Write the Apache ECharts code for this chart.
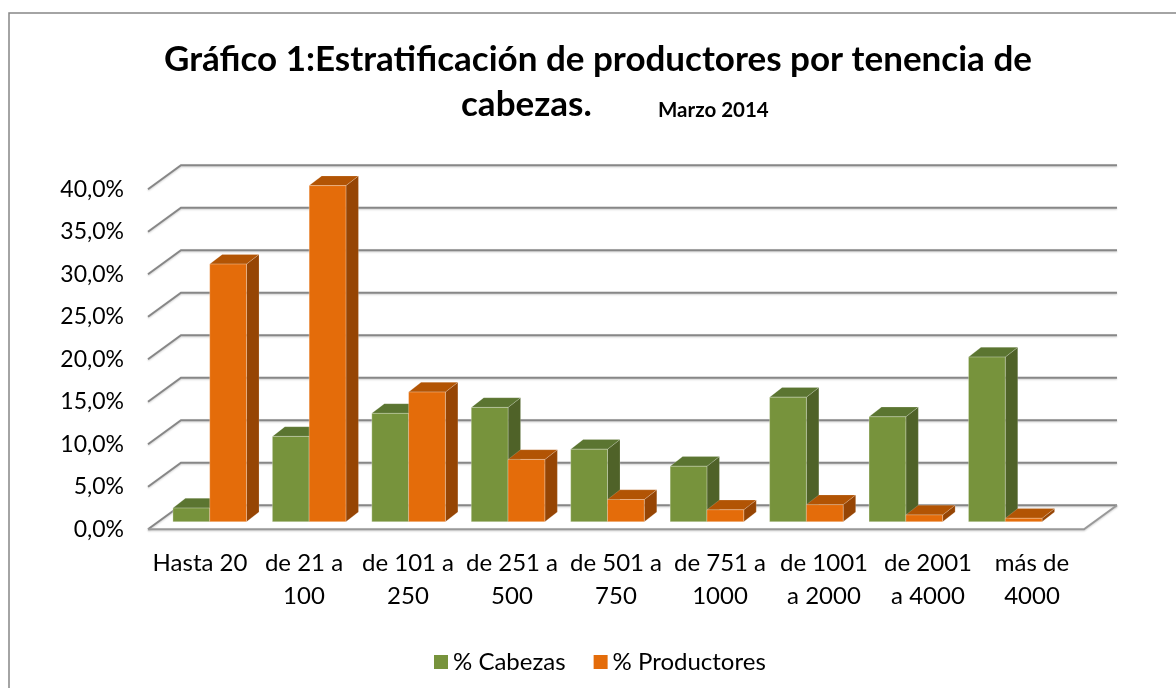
<!DOCTYPE html>
<html>
<head>
  <meta charset="utf-8">
  <style>
    html, body { margin: 0; padding: 0; background: #fff; }
    #main { width: 1176px; height: 688px; }
  </style>
</head>
<body>
  <div id="main"></div>
  <script src="https://cdn.jsdelivr.net/npm/echarts@6/dist/echarts.min.js"></script>
  <script>
    var categories = ['Hasta 20', 'de 21 a\n100', 'de 101 a\n250', 'de 251 a\n500', 'de 501 a\n750',
      'de 751 a\n1000', 'de 1001\na 2000', 'de 2001\na 4000', 'más de\n4000'];
    var cabezas = [1.6, 10.0, 12.7, 13.4, 8.5, 6.5, 14.6, 12.3, 19.3];
    var productores = [30.2, 39.4, 15.2, 7.3, 2.6, 1.4, 2.0, 0.8, 0.4];
    var ticks = [0, 5, 10, 15, 20, 25, 30, 35, 40];

    var FONT = 'Lato, "Open Sans", sans-serif';
    // depth of the walls and of the bars (3D look)
    var WALL_DX = 33, WALL_DY = -24;
    var BAR_DX = 12.5, BAR_DY = -9.7;

    function wallItem(params, api) {
      var cs = params.coordSys;
      var y = api.coord([0, api.value(1)])[1];
      var style = { stroke: '#878787', lineWidth: 2, fill: null,
        shadowBlur: 2, shadowColor: 'rgba(0,0,0,0.2)', shadowOffsetY: 1 };
      var children = [{
        type: 'polyline',
        shape: { points: [[cs.x, y], [cs.x + WALL_DX, y + WALL_DY], [cs.x + cs.width + WALL_DX, y + WALL_DY]] },
        style: style
      }];
      if (api.value(1) === 0) {
        children.push({
          type: 'polyline',
          shape: { points: [[cs.x, y], [cs.x + cs.width, y], [cs.x + cs.width + WALL_DX, y + WALL_DY]] },
          style: { stroke: '#999', lineWidth: 2, fill: null,
            shadowBlur: 2, shadowColor: 'rgba(0,0,0,0.2)', shadowOffsetY: 1 }
        });
      }
      return { type: 'group', children: children };
    }

    function barRenderer(side, front, top, dark) {
      return function (params, api) {
        var idx = api.value(0);
        var top1 = api.coord([idx, api.value(1)]);
        var base = api.coord([idx, 0]);
        var band = api.size([1, 0])[0];
        var bw = band * 0.37;
        var x0 = side === 0 ? top1[0] - bw : top1[0];
        var x1 = x0 + bw;
        var yt = top1[1], yb = base[1];
        var edge = 'rgba(255,255,255,0.35)';
        return {
          type: 'group',
          children: [
            { type: 'polygon',
              shape: { points: [[x1, yt], [x1 + BAR_DX, yt + BAR_DY], [x1 + BAR_DX, yb + BAR_DY], [x1, yb]] },
              style: { fill: dark, stroke: edge, lineWidth: 0.5 } },
            { type: 'polygon',
              shape: { points: [[x0, yt], [x1, yt], [x1 + BAR_DX, yt + BAR_DY], [x0 + BAR_DX, yt + BAR_DY]] },
              style: { fill: top, stroke: edge, lineWidth: 0.5 } },
            { type: 'rect',
              shape: { x: x0, y: yt, width: bw, height: yb - yt },
              style: { fill: front, stroke: edge, lineWidth: 0.8 } }
          ]
        };
      };
    }

    var chart = echarts.init(document.getElementById('main'));
    chart.setOption({
      backgroundColor: '#fff',
      animation: false,
      title: [
        { text: 'Gráfico 1:Estratificación de productores por tenencia de', left: 593, top: 37, textAlign: 'center',
          textStyle: { fontFamily: FONT, fontWeight: 'bold', fontSize: 35, color: '#000' } },
        { text: 'cabezas.', left: 456, top: 82,
          textStyle: { fontFamily: FONT, fontWeight: 'bold', fontSize: 35, color: '#000' } },
        { text: 'Marzo 2014', left: 653, top: 95,
          textStyle: { fontFamily: FONT, fontWeight: 'bold', fontSize: 20.5, color: '#000' } }
      ],
      legend: {
        left: 429, top: 645,
        icon: 'rect', itemWidth: 14, itemHeight: 14, itemGap: 28,
        textStyle: { fontFamily: FONT, fontSize: 24, color: '#000' },
        data: ['% Cabezas', '% Productores']
      },
      graphic: [
        { type: 'polyline', shape: { points: [[9, 688], [9, 13], [1176, 13]] },
          style: { stroke: '#868686', lineWidth: 1.5, fill: null } }
      ],
      grid: [
        { left: 148, right: 92, top: 189.3, bottom: 158.7 },
        { left: 160, right: 121, top: 180.5, bottom: 166.3 }
      ],
      xAxis: [
        { type: 'category', gridIndex: 0, data: categories,
          axisLine: { show: false }, axisTick: { show: false },
          axisLabel: { interval: 0, margin: 17, fontFamily: FONT, fontSize: 24, lineHeight: 33, color: '#000' } },
        { type: 'category', gridIndex: 1, data: categories, show: false }
      ],
      yAxis: [
        { type: 'value', gridIndex: 0, min: 0, max: 40, interval: 5,
          axisLine: { show: false }, axisTick: { show: false }, splitLine: { show: false },
          axisLabel: { margin: 24, fontFamily: FONT, fontSize: 23, color: '#000',
            formatter: function (v) { return v.toFixed(1).replace('.', ',') + '%'; } } },
        { type: 'value', gridIndex: 1, min: 0, max: 40, interval: 5, show: false }
      ],
      series: [
        { type: 'custom', name: 'walls', xAxisIndex: 0, yAxisIndex: 0, z: 1, silent: true,
          data: ticks.map(function (t) { return [0, t]; }), encode: { x: 0, y: 1 },
          renderItem: wallItem },
        { type: 'custom', name: '% Cabezas', xAxisIndex: 1, yAxisIndex: 1, z: 2,
          itemStyle: { color: '#77933C' },
          data: cabezas.map(function (v, i) { return [i, v]; }), encode: { x: 0, y: 1 },
          renderItem: barRenderer(0, '#77933C', '#5B7531', '#4F6228') },
        { type: 'custom', name: '% Productores', xAxisIndex: 1, yAxisIndex: 1, z: 3,
          itemStyle: { color: '#E46C0A' },
          data: productores.map(function (v, i) { return [i, v]; }), encode: { x: 0, y: 1 },
          renderItem: barRenderer(1, '#E46C0A', '#B25404', '#964504') }
      ]
    });
  </script>
</body>
</html>
